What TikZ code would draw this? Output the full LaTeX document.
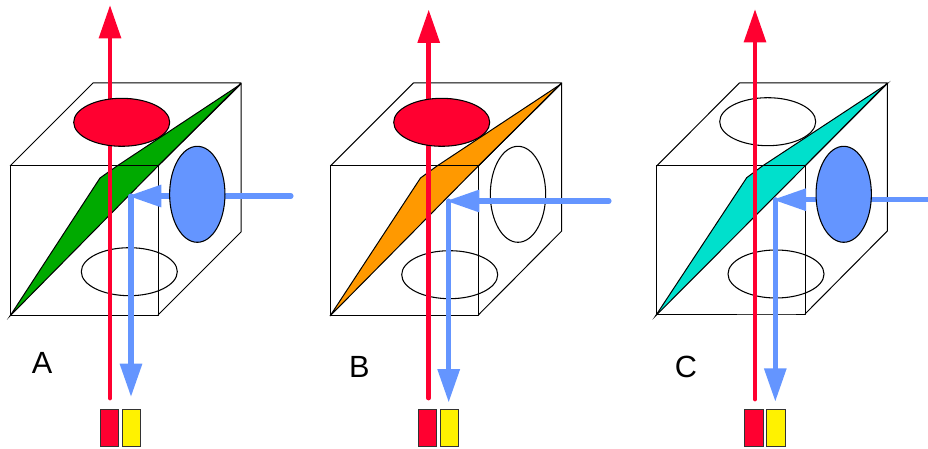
\documentclass[tikz,border=0pt]{standalone}
\usepackage{fontspec}
\setmainfont{Liberation Sans}
\usepackage{xcolor}
\usetikzlibrary{shapes,arrows.meta,positioning,calc}
\definecolor{beamred}{HTML}{FF0030}
\definecolor{beamblue}{HTML}{6495FF}
\definecolor{platgreen}{HTML}{00AA00}
\definecolor{platorange}{HTML}{FF9900}
\definecolor{platteal}{HTML}{00E0CC}

\begin{document}
\begin{tikzpicture}[
    x=0.75pt, y=-0.75pt,
    edge/.style={draw=black, line width=0.75pt, line join=round},
    plate/.style={draw=black, line width=0.75pt, line join=miter},
    hole/.style={ellipse, draw=black, line width=0.8pt, inner sep=0pt},
    flat/.style={hole, minimum width=72pt, minimum height=36pt},
    tall/.style={hole, minimum width=41.5pt, minimum height=72pt},
    det/.style={rectangle, draw=black!80, line width=0.8pt, inner sep=0pt, minimum width=14pt, minimum height=28.2pt},
    redbeam/.style={-{Triangle[length=25pt, width=16pt]}, line width=3.6pt, draw=beamred, line cap=round},
    bluebeam/.style={-{Triangle[length=25pt, width=16pt]}, line width=3.8pt, draw=beamblue, line cap=round},
    letter/.style={font=\fontsize{23}{24}\selectfont, inner sep=0pt}
]
    \useasboundingbox (0,0) rectangle (928,449);

    % cube A
    \filldraw [plate, fill=platgreen] (10,316) -- (100,178) -- (117,166) -- (241,84) -- (158,166) -- cycle;
    \draw [edge] (10,166) rectangle (158,315);
    \draw [edge] (10,166) -- (93,83) -- (241,83) -- (158,166);
    \draw [edge] (241,83) -- (241,232) -- (158,315);
    \node [flat] (lowA) at (129.3,271.7) {};
    \coordinate (srcA) at (110,398);
    \coordinate (topA) at (110,5);
    \coordinate (inA) at (291,196);
    \coordinate (mirA) at (128,196);
    \coordinate (bendA) at (131,196);
    \coordinate (outA) at (131,397);
    \draw [redbeam] (srcA) -- (topA);
    \draw [bluebeam] (inA) -- (mirA);
    \draw [bluebeam] (bendA) -- (outA);
    \node [flat, fill=beamred] (upA) at (121.7,122.3) {};
    \node [tall, fill=beamblue] (sideA) at (197.3,194.3) {};
    \node [det, fill=beamred] (d1A) at (109.5,428) {};
    \node [det, fill=yellow] (d2A) at (131.5,428) {};
    \node [letter] (labA) at (42,363) {A};

    % cube B
    \filldraw [plate, fill=platorange] (330,316) -- (420.5,178) -- (437,166) -- (561,84) -- (478.3,166) -- cycle;
    \draw [edge] (330.3,166) rectangle (478.3,315);
    \draw [edge] (330.3,166) -- (413.3,83) -- (561.7,83) -- (478.3,166);
    \draw [edge] (561.7,83) -- (561.7,231) -- (478.3,315);
    \node [flat] (lowB) at (449.7,274.7) {};
    \node [tall] (sideB) at (518,194.3) {};
    \coordinate (srcB) at (428.7,398);
    \coordinate (topB) at (428.7,9.5);
    \coordinate (inB) at (609,201);
    \coordinate (mirB) at (446,201);
    \coordinate (bendB) at (448.7,201);
    \coordinate (outB) at (448.7,402.5);
    \draw [redbeam] (srcB) -- (topB);
    \draw [bluebeam] (inB) -- (mirB);
    \draw [bluebeam] (bendB) -- (outB);
    \node [flat, fill=beamred] (upB) at (441.7,122.3) {};
    \node [det, fill=beamred] (d1B) at (427.5,428) {};
    \node [det, fill=yellow] (d2B) at (449.5,428) {};
    \node [letter] (labB) at (359.3,366.7) {B};

    % cube C
    \filldraw [plate, fill=platteal] (655.5,316) -- (746.7,177.7) -- (761.7,166.5) -- (887,84) -- (805,166) -- cycle;
    \draw [edge] (656.7,166) rectangle (805,314);
    \draw [edge] (656.7,166) -- (739.3,83) -- (887.3,83) -- (805,166);
    \draw [edge] (887.3,83) -- (887.3,231) -- (805,314);
    \draw [line width=1.1pt, draw=black!75] (737.3,314.5) -- (795.7,314.5);
    \node [flat] (upC) at (767.7,121.7) {};
    \node [flat] (lowC) at (776,274) {};
    \coordinate (srcC) at (755,399);
    \coordinate (topC) at (755,9);
    \coordinate (inC) at (932,199.7);
    \coordinate (mirC) at (772.7,199.7);
    \coordinate (bendC) at (775.3,199.7);
    \coordinate (outC) at (775.3,401.7);
    \draw [redbeam] (srcC) -- (topC);
    \draw [bluebeam] (inC) -- (mirC);
    \draw [bluebeam] (bendC) -- (outC);
    \node [tall, fill=beamblue] (sideC) at (843.7,194.3) {};
    \node [det, fill=beamred] (d1C) at (754.2,428) {};
    \node [det, fill=yellow] (d2C) at (776.2,428) {};
    \node [letter] (labC) at (686,366.7) {C};
\end{tikzpicture}
\end{document}
